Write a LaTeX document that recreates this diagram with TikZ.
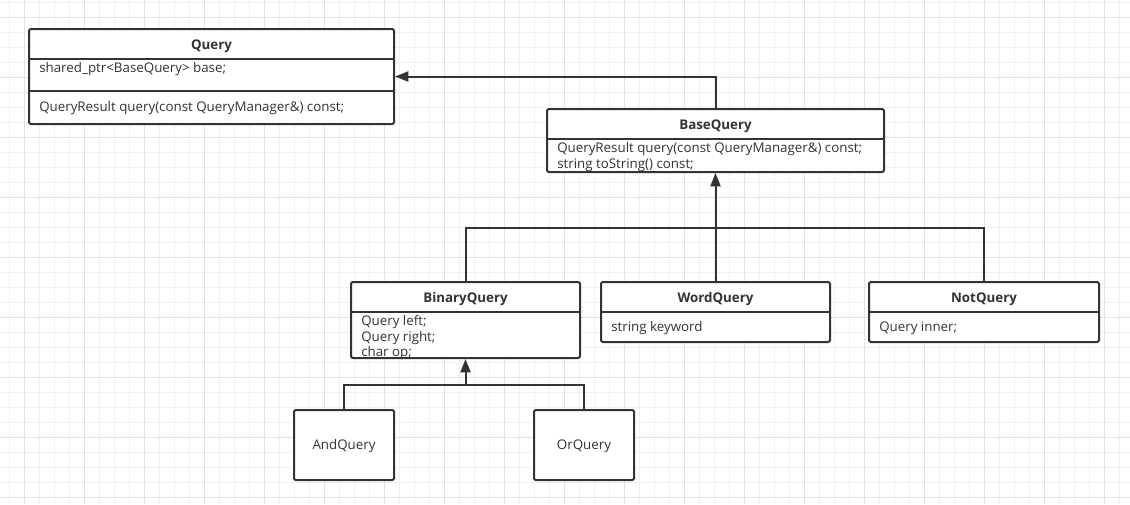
\documentclass[tikz,border=0pt]{standalone}
\usepackage{fontspec}
\setmainfont{Open Sans}
\usetikzlibrary{arrows.meta,fit}
\definecolor{linec}{HTML}{333333}
\definecolor{textc}{HTML}{333333}
\definecolor{gridminor}{HTML}{F0F0F0}
\definecolor{gridmajor}{HTML}{E2E2E2}
\tikzset{
  classbox/.style={draw=linec,line width=1.5pt,rounded corners=1.5pt,inner sep=0pt},
  classtitle/.style={font=\fontsize{10pt}{11pt}\selectfont\bfseries,text=textc,inner sep=0pt,yshift=-1.5pt},
  member/.style={font=\fontsize{10pt}{11pt}\selectfont,text=textc,inner sep=0pt,anchor=west,
    text height=7pt,text depth=2.8pt,yshift=-1.5pt},
  divider/.style={draw=linec,line width=1.5pt},
  link/.style={draw=linec,line width=1.5pt},
  inherit/.style={link,-{Triangle[length=10pt,width=7.5pt]}}
}
\begin{document}
\begin{tikzpicture}[x=0.75pt,y=-0.75pt]
  \useasboundingbox (0,0) rectangle (1130,504);
  % background grid
  \fill[white] (0,0) rectangle (1130,504);
  \foreach \x in {9.5,24.5,...,1130}
    \draw[gridminor,line width=0.75pt] (\x,0) -- (\x,504);
  \foreach \y in {2.3,17.3,...,504}
    \draw[gridminor,line width=0.75pt] (0,\y) -- (1130,\y);
  \foreach \x in {24.5,84.5,...,1130}
    \draw[gridmajor,line width=0.75pt] (\x,0) -- (\x,504);
  \foreach \y in {17.3,77.3,...,504}
    \draw[gridmajor,line width=0.75pt] (0,\y) -- (1130,\y);

  % classes
  \node[classbox,fill=white,fit={(29,29) (394,124)}] (query) {};
  \node[classtitle] (querytitle) at (211.5,44.5) {Query};
  \draw[divider] (29,59) -- (394,59);
  \node[member] (querybase) at (39,68) {shared\_ptr<BaseQuery> base;};
  \draw[divider] (29,91) -- (394,91);
  \node[member] (queryfn) at (39,107) {QueryResult query(const QueryManager\&) const;};

  \node[classbox,fill=white,fit={(547,109) (884,172)}] (base) {};
  \node[classtitle] (basetitle) at (715.5,124.5) {BaseQuery};
  \draw[divider] (547,139) -- (884,139);
  \node[member] (basefn) at (557,148) {QueryResult query(const QueryManager\&) const;};
  \node[member] (basestr) at (557,164) {string toString() const;};

  \node[classbox,fill=white,fit={(351,282) (580,358)}] (binary) {};
  \node[classtitle] (binarytitle) at (465.5,297.5) {BinaryQuery};
  \draw[divider] (351,312) -- (580,312);
  \node[member] (binaryl) at (361,321) {Query left;};
  \node[member] (binaryr) at (361,337) {Query right;};
  \node[member] (binaryop) at (361,352) {char op;};

  \node[classbox,fill=white,fit={(601,282) (830,342)}] (word) {};
  \node[classtitle] (wordtitle) at (715.5,297.5) {WordQuery};
  \draw[divider] (601,312) -- (830,312);
  \node[member] (wordkey) at (611,327) {string keyword};

  \node[classbox,fill=white,fit={(869,282) (1099,342)}] (notq) {};
  \node[classtitle] (nottitle) at (984,297.5) {NotQuery};
  \draw[divider] (869,312) -- (1099,312);
  \node[member] (notinner) at (879,327) {Query inner;};

  \node[classbox,fill=white,fit={(294,410) (394,480)}] (andq) {};
  \node[member,anchor=center] (andname) at (344,445) {AndQuery};
  \node[classbox,fill=white,fit={(534,410) (634,480)}] (orq) {};
  \node[member,anchor=center] (orname) at (584,445) {OrQuery};

  % connectors
  \coordinate (basejoin) at (715.5,228);
  \coordinate (binaryjoin) at (465.5,385);
  \path[inherit] (base.north) |- (query.east);
  \path[inherit] (word.north) -- (base.south);
  \path[link] (binary.north) |- (basejoin) -| (notq.north);
  \path[inherit] (binaryjoin) -- (binary.south);
  \path[link] (andq.north) |- (binaryjoin) -| (orq.north);
\end{tikzpicture}
\end{document}
